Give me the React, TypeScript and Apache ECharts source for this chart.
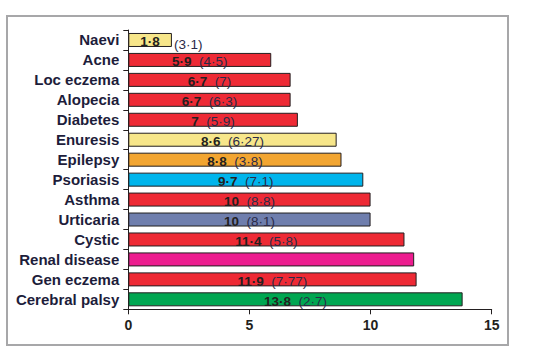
import React, { useEffect, useRef } from "react";
import * as echarts from "echarts";

const categories = [
  "Naevi",
  "Acne",
  "Loc eczema",
  "Alopecia",
  "Diabetes",
  "Enuresis",
  "Epilepsy",
  "Psoriasis",
  "Asthma",
  "Urticaria",
  "Cystic",
  "Renal disease",
  "Gen eczema",
  "Cerebral palsy",
];
const values = [1.8, 5.9, 6.7, 6.7, 7, 8.6, 8.8, 9.7, 10, 10, 11.4, 11.8, 11.9, 13.8];
const secondary: (number | null)[] = [3.1, 4.5, 7, 6.3, 5.9, 6.27, 3.8, 7.1, 8.8, 8.1, 5.8, null, 7.77, 2.7];
const barColors = [
  "#f7e68a",
  "#ee2a35",
  "#ee2a35",
  "#ee2a35",
  "#ee2a35",
  "#f7e68a",
  "#f2a531",
  "#00b5ec",
  "#ee2a35",
  "#6f7ead",
  "#ee2a35",
  "#ec1d8f",
  "#ee2a35",
  "#00a651",
];
const xMin = 0;
const xMax = 15;
const xInterval = 5;

const fmt = (v: number) => String(v).replace(".", "\u00b7");
const SHORT = 3; // bars shorter than this carry their bracketed note outside

export default function App() {
  const ref = useRef<HTMLDivElement>(null);
  useEffect(() => {
    if (!ref.current) return;
    const chart = echarts.init(ref.current, undefined, { renderer: "svg" });
    const textColor = "#231f20";
    chart.setOption({
      animation: false,
      graphic: [
        {
          type: "rect",
          silent: true,
          z: -10,
          shape: { x: 7, y: 16, width: 501, height: 329 },
          style: { fill: "none", stroke: "#a7a7a9", lineWidth: 2 },
        },
      ],
      grid: { left: 128.3, right: 57.3, top: 30, bottom: 51.7, containLabel: false },
      xAxis: {
        type: "value",
        min: xMin,
        max: xMax,
        interval: xInterval,
        splitLine: { show: false },
        axisLine: { show: true, lineStyle: { color: textColor, width: 1 } },
        axisTick: { show: true, length: 5, lineStyle: { color: textColor, width: 1 } },
        axisLabel: {
          fontFamily: "Liberation Sans, Arial, sans-serif",
          fontWeight: "bold",
          fontSize: 14,
          color: textColor,
          margin: 9,
        },
      },
      yAxis: {
        type: "category",
        inverse: true,
        data: categories,
        axisLine: { show: true, lineStyle: { color: textColor, width: 1 } },
        axisTick: { show: true, length: 5, lineStyle: { color: textColor, width: 1 } },
        axisLabel: {
          interval: 0,
          fontFamily: "Liberation Sans, Arial, sans-serif",
          fontWeight: "bold",
          fontSize: 15,
          color: "#1d1d3b",
          margin: 9,
        },
      },
      series: [
        {
          type: "bar",
          barWidth: 14,
          data: values.map((v, i) => ({
            value: v,
            itemStyle: { color: barColors[i], borderColor: textColor, borderWidth: 1 },
          })),
          label: {
            show: true,
            position: "inside",
            offset: [0, 2],
            formatter: (p: any) => {
              const i = p.dataIndex;
              const v = values[i];
              const s = secondary[i];
              if (s === null) return "";
              if (v < SHORT) return `{b|${fmt(v)}}`;
              return `{b|${fmt(v)}}{r|  (${fmt(s)})}`;
            },
            rich: {
              b: {
                fontFamily: "Liberation Sans, Arial, sans-serif",
                fontSize: 13.5,
                fontWeight: "bold",
                color: textColor,
              },
              r: {
                fontFamily: "Liberation Sans, Arial, sans-serif",
                fontSize: 13.5,
                color: "#2a2a48",
              },
            },
          },
        },
        {
          type: "bar",
          barWidth: 14,
          barGap: "-100%",
          silent: true,
          z: 1,
          data: values.map((v) => ({ value: v, itemStyle: { color: "rgba(0,0,0,0)", borderWidth: 0 } })),
          label: {
            show: true,
            position: "right",
            distance: 2,
            offset: [0, 5],
            fontFamily: "Liberation Sans, Arial, sans-serif",
            fontSize: 13.5,
            color: "#2a2a48",
            formatter: (p: any) => {
              const i = p.dataIndex;
              const s = secondary[i];
              if (values[i] >= SHORT || s === null) return "";
              return `(${fmt(s)})`;
            },
          },
        },
      ],
    });
    return () => chart.dispose();
  }, []);
  return (
    <div
      ref={ref}
      style={{ position: "absolute", left: 0, top: 0, width: 549, height: 361 }}
    />
  );
}
